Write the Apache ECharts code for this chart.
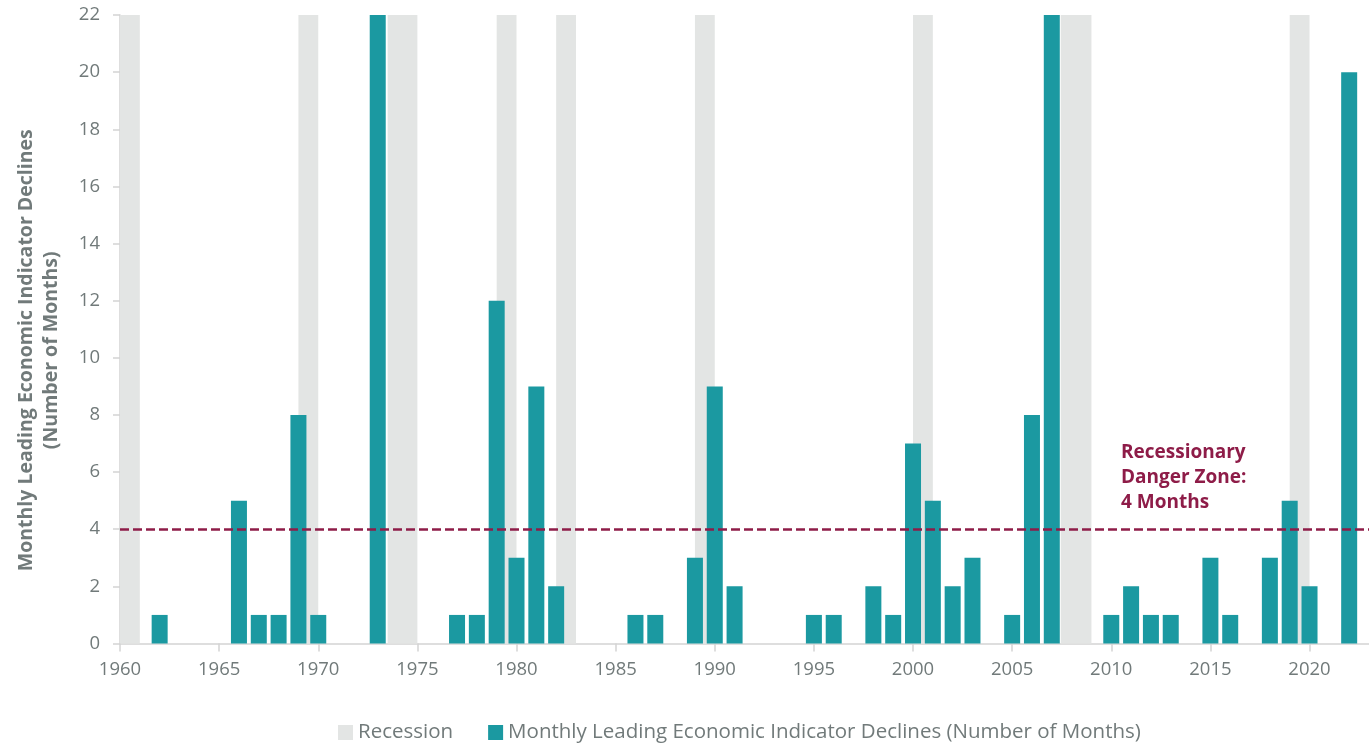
<!DOCTYPE html>
<html>
<head>
<meta charset="utf-8">
<style>
  html, body { margin: 0; padding: 0; background: #ffffff; }
  #chart { width: 1369px; height: 744px; }
</style>
<script src="https://cdn.jsdelivr.net/npm/echarts@6/dist/echarts.min.js"></script>
</head>
<body>
<div id="chart"></div>
<script>
// Years with at least one monthly decline in the leading indicator index
const years = [1962, 1966, 1967, 1968, 1969, 1970, 1973, 1977, 1978, 1979, 1980, 1981, 1982,
  1986, 1987, 1989, 1990, 1991, 1995, 1996, 1998, 1999, 2000, 2001, 2002, 2003,
  2005, 2006, 2007, 2010, 2011, 2012, 2013, 2015, 2016, 2018, 2019, 2020, 2022];
// Number of months with a decline in each of those years
const declines = [1, 5, 1, 1, 8, 1, 22, 1, 1, 12, 3, 9, 2,
  1, 1, 3, 9, 2, 1, 1, 2, 1, 7, 5, 2, 3,
  1, 8, 22, 1, 2, 1, 1, 3, 1, 3, 5, 2, 20];
// Recession periods, [start, end] in fractional years
const recessionStart = [1960, 1969, 1973.5, 1979, 1982, 1989, 2000, 2007.45, 2019];
const recessionEnd   = [1961, 1970, 1975,   1980, 1983, 1990, 2001, 2009,    2020];
// Recessionary danger-zone threshold, in months
const dangerThreshold = 4;

const xMin = 1960, xMax = 2023, yMax = 22;
const seriesNames = ['Recession', 'Monthly Leading Economic Indicator Declines (Number of Months)'];
const yAxisTitle = 'Monthly Leading Economic Indicator Declines\n(Number of Months)';
const dangerNote = 'Recessionary\nDanger Zone:\n' + dangerThreshold + ' Months';

const FONT = '"Open Sans", "Noto Sans", sans-serif';
const TEXT_GREY = '#717a7a';
const AXIS_GREY = '#d3d3d3';
const TEAL = '#1b99a1';
const BAND_GREY = '#e3e5e4';
const MAROON = '#8e1c48';

const barData = years.map((y, i) => [y, declines[i]]);
const bandData = recessionStart.map((s, i) => [s, recessionEnd[i]]);

const chart = echarts.init(document.getElementById('chart'), null, { renderer: 'canvas' });

chart.setOption({
  animation: false,
  backgroundColor: '#ffffff',
  textStyle: { fontFamily: FONT },
  grid: { left: 120, top: 15, width: 1250, height: 628.5, containLabel: false },
  legend: {
    left: 333,
    top: 717,
    itemWidth: 15,
    itemHeight: 15,
    itemGap: 35,
    icon: 'rect',
    textStyle: { color: TEXT_GREY, fontSize: 20.5, fontFamily: FONT },
    data: seriesNames
  },
  xAxis: {
    type: 'value',
    min: xMin,
    max: xMax,
    interval: 5,
    axisLine: { show: true, lineStyle: { color: AXIS_GREY, width: 1.5 } },
    axisTick: { show: true, length: 8, lineStyle: { color: AXIS_GREY, width: 1.5 } },
    splitLine: { show: false },
    axisLabel: {
      color: TEXT_GREY,
      fontSize: 18.5,
      fontFamily: FONT,
      margin: 17,
      showMaxLabel: false,
      formatter: v => (v % 5 === 0 ? String(v) : '')
    }
  },
  yAxis: {
    type: 'value',
    min: 0,
    max: yMax,
    interval: 2,
    name: yAxisTitle,
    nameLocation: 'middle',
    nameRotate: 90,
    nameGap: 56,
    nameTextStyle: {
      color: TEXT_GREY, fontSize: 19.5, fontWeight: 'bold', lineHeight: 25, fontFamily: FONT,
      padding: [0, 42, 0, 0]
    },
    axisLine: { show: true, lineStyle: { color: AXIS_GREY, width: 1.5 } },
    axisTick: { show: true, length: 7, lineStyle: { color: AXIS_GREY, width: 1.5 } },
    splitLine: { show: false },
    axisLabel: { color: TEXT_GREY, fontSize: 18.5, fontFamily: FONT, margin: 20 }
  },
  graphic: [{
    type: 'text',
    left: 1121,
    top: 440,
    z: 100,
    style: {
      text: dangerNote,
      fill: MAROON,
      font: 'bold 19px ' + FONT,
      lineHeight: 25
    }
  }],
  series: [
    {
      name: seriesNames[0],
      type: 'custom',
      z: 1,
      itemStyle: { color: BAND_GREY },
      data: bandData,
      encode: { x: [0, 1] },
      renderItem: function (params, api) {
        const p0 = api.coord([api.value(0), yMax]);
        const p1 = api.coord([api.value(1), 0]);
        return {
          type: 'rect',
          shape: { x: p0[0], y: p0[1], width: p1[0] - p0[0], height: p1[1] - p0[1] },
          style: { fill: BAND_GREY }
        };
      }
    },
    {
      name: seriesNames[1],
      type: 'bar',
      z: 3,
      barWidth: 16,
      itemStyle: { color: TEAL },
      data: barData,
      markLine: {
        silent: true,
        symbol: 'none',
        z: 5,
        label: { show: false },
        lineStyle: { color: MAROON, type: [9, 4], width: 2.5 },
        data: [{ yAxis: dangerThreshold }]
      }
    }
  ]
});
</script>
</body>
</html>
